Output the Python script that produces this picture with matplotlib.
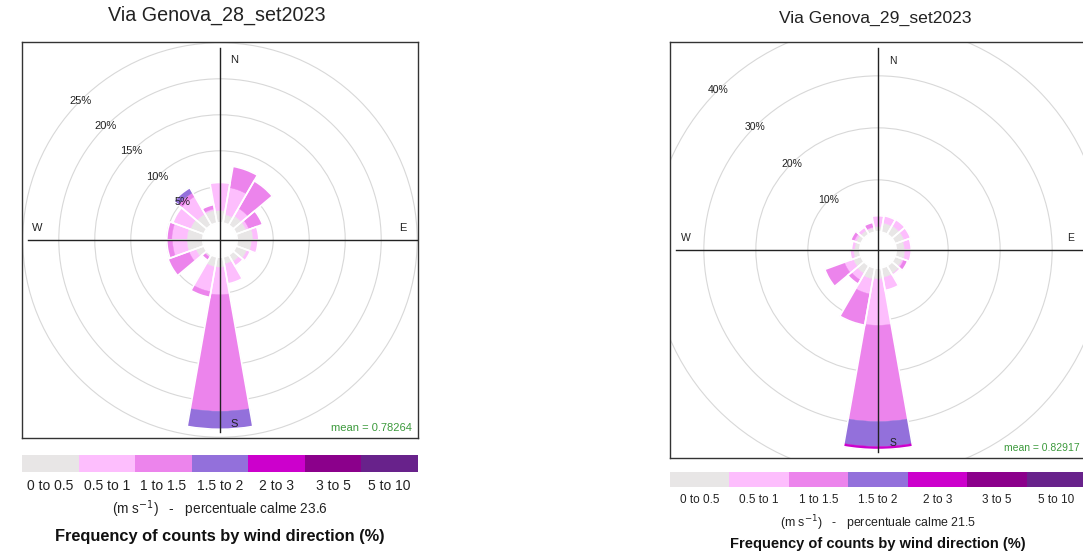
#!/usr/bin/env python3
"""
wind_roses.py - Wind roses for Via Genova, 28 and 29 Sept 2023
"""

import matplotlib
matplotlib.use('Agg')
import matplotlib.pyplot as plt
from matplotlib.patches import Wedge, Circle

plt.rcParams['font.family'] = ['Liberation Sans', 'DejaVu Sans']

# Wind direction sectors (degrees from north), 20 degree bins
directions = [0, 20, 40, 60, 80, 100, 120, 140, 160,
              180, 200, 220, 240, 260, 280, 300, 320, 340]

speed_labels = ['0 to 0.5', '0.5 to 1', '1 to 1.5', '1.5 to 2',
                '2 to 3', '3 to 5', '5 to 10']
speed_colours = ['#E8E6E6', '#FDBEFD', '#EC84EC', '#9370DB',
                 '#CC00CC', '#8B008B', '#68228B']

# Frequency (%) per sector for each speed class - 28 set 2023
set28_0_05 = [1.7, 1.2, 1.5, 1.5, 2.2, 2.0, 1.6, 1.1, 1.0,
              1.4, 1.4, 0.3, 1.2, 2.2, 2.2, 2.0, 1.8, 1.8]
set28_05_1 = [3.9, 3.8, 1.2, 0.4, 0.8, 0.9, 0.5, 0.7, 2.8,
              3.8, 3.5, 0.1, 1.0, 2.0, 2.1, 2.6, 2.8, 0.2]
set28_1_15 = [0.0, 3.0, 4.4, 2.0, 0.0, 0.0, 0.0, 0.0, 0.0,
              16.2, 0.8, 0.5, 3.1, 0.8, 0.7, 0.0, 0.6, 0.6]
set28_15_2 = [0.0, 0.0, 0.0, 0.0, 0.0, 0.0, 0.0, 0.0, 0.0,
              2.5, 0.0, 0.0, 0.0, 0.0, 0.0, 0.0, 0.8, 0.0]

# Frequency (%) per sector for each speed class - 29 set 2023
set29_0_05 = [1.0, 1.8, 1.9, 1.9, 1.6, 1.7, 1.5, 1.8, 1.9,
              2.1, 2.2, 1.8, 1.6, 1.2, 1.0, 1.0, 0.9, 0.8]
set29_05_1 = [2.1, 1.4, 1.4, 1.3, 1.3, 1.2, 0.3, 0.3, 2.5,
              8.9, 2.9, 1.4, 1.8, 0.7, 0.6, 0.4, 0.7, 0.2]
set29_1_15 = [0.0, 0.0, 0.0, 0.0, 0.0, 0.0, 0.8, 0.0, 0.0,
              18.5, 6.1, 0.9, 4.0, 0.0, 0.0, 0.7, 0.0, 0.9]
set29_15_2 = [0.0, 0.0, 0.0, 0.0, 0.0, 0.0, 0.0, 0.0, 0.0,
              4.8, 0.0, 0.0, 0.0, 0.0, 0.0, 0.0, 0.0, 0.0]
set29_2_3 = [0.0, 0.0, 0.0, 0.0, 0.0, 0.0, 0.0, 0.0, 0.0,
             0.6, 0.0, 0.0, 0.0, 0.0, 0.0, 0.0, 0.0, 0.0]

panels = [
    dict(title='Via Genova_28_set2023', bins=[set28_0_05, set28_05_1, set28_1_15, set28_15_2],
         grid=[5, 10, 15, 20, 25], lim=27.5, mean='mean = 0.78264', calm=23.6,
         box=[22, 42, 396], bar_y=(455, 472), text_y=(486, 509, 536), title_y=15,
         fs=(14.2, 8, 10, 9.8, 11.8)),
    dict(title='Via Genova_29_set2023', bins=[set29_0_05, set29_05_1, set29_1_15, set29_15_2, set29_2_3],
         grid=[10, 20, 30, 40], lim=40.0, mean='mean = 0.82917', calm=21.5,
         box=[670, 42, 416], bar_y=(472, 487), text_y=(500, 523, 544), title_y=18,
         fs=(12.6, 7.5, 8.5, 8.9, 10.5)),
]

W, H = 1083, 552
fig = plt.figure(figsize=(W / 100, H / 100), dpi=100)

for p in panels:
    x0, y0, size = p['box']
    ax = fig.add_axes([x0 / W, 1 - (y0 + size) / H, size / W, size / H])
    lim = p['lim']
    ax.set_xlim(-lim, lim)
    ax.set_ylim(-lim, lim)
    ax.set_aspect('equal')
    ax.set_xticks([])
    ax.set_yticks([])
    for s in ax.spines.values():
        s.set_color('#333333')
        s.set_linewidth(1.0)

    # hole in the middle is 10% of the largest petal
    totals = [sum(v) for v in zip(*p['bins'])]
    hole = 0.1 * max(totals)

    # grid circles
    for g in p['grid']:
        ax.add_patch(Circle((0, 0), hole + g, fill=False, ec='#D8D8D8', lw=0.8, zorder=1))

    # stacked petals, then a white outline round each petal
    for i, d in enumerate(directions):
        inner = hole
        for k, freq in enumerate(p['bins']):
            f = freq[i]
            if f <= 0:
                continue
            outer = inner + f
            ax.add_patch(Wedge((0, 0), outer, 90 - d - 10, 90 - d + 10, width=f,
                               fc=speed_colours[k], ec=speed_colours[k], lw=0.3, zorder=2))
            inner = outer
        ax.add_patch(Wedge((0, 0), inner, 90 - d - 10, 90 - d + 10, width=inner - hole,
                           fill=False, ec='white', lw=1.2, zorder=2.5))

    # compass axes
    ax.plot([0, 0], [-0.97 * lim, 0.97 * lim], color='#222222', lw=1.0, zorder=3)
    ax.plot([-0.97 * lim, lim], [0, 0], color='#222222', lw=1.0, zorder=3)

    # grid labels on the NW diagonal
    for g in p['grid']:
        r = hole + g
        ax.text(-r * 0.7071, r * 0.7071, f'{g}%', ha='center', va='center',
                fontsize=p['fs'][1], color='#222222', zorder=4)

    for lab, xy in zip('NESW', [(0.535, 0.955), (0.962, 0.53), (0.535, 0.036), (0.038, 0.53)]):
        ax.text(xy[0], xy[1], lab, transform=ax.transAxes, ha='center', va='center',
                fontsize=p['fs'][1], color='#222222', zorder=4)

    ax.text(0.985, 0.025, p['mean'], transform=ax.transAxes, ha='right', va='center',
            fontsize=p['fs'][1], color='#3C9A3C', zorder=4)

    # colour key
    b0, b1 = p['bar_y']
    kax = fig.add_axes([x0 / W, 1 - b1 / H, size / W, (b1 - b0) / H])
    kax.bar(range(len(speed_labels)), [1] * len(speed_labels), width=1.0,
            color=speed_colours, edgecolor='none')
    kax.set_xlim(-0.5, len(speed_labels) - 0.5)
    kax.set_ylim(0, 1)
    kax.axis('off')

    cx = x0 + size / 2
    for j, lab in enumerate(speed_labels):
        fig.text((x0 + size * (j + 0.5) / len(speed_labels)) / W, 1 - p['text_y'][0] / H, lab,
                 ha='center', va='center', fontsize=p['fs'][2], color='#222222')
    fig.text(cx / W, 1 - p['text_y'][1] / H,
             r'(m s$^{-1}$)   -   percentuale calme ' + f"{p['calm']}",
             ha='center', va='center', fontsize=p['fs'][3], color='#222222')
    fig.text(cx / W, 1 - p['text_y'][2] / H, 'Frequency of counts by wind direction (%)',
             ha='center', va='center', fontsize=p['fs'][4], fontweight='bold', color='#111111')
    fig.text((x0 + size / 2 - 3) / W, 1 - p['title_y'] / H, p['title'],
             ha='center', va='center', fontsize=p['fs'][0], color='#222222')

fig.savefig('out.png', dpi=100)
plt.close(fig)
